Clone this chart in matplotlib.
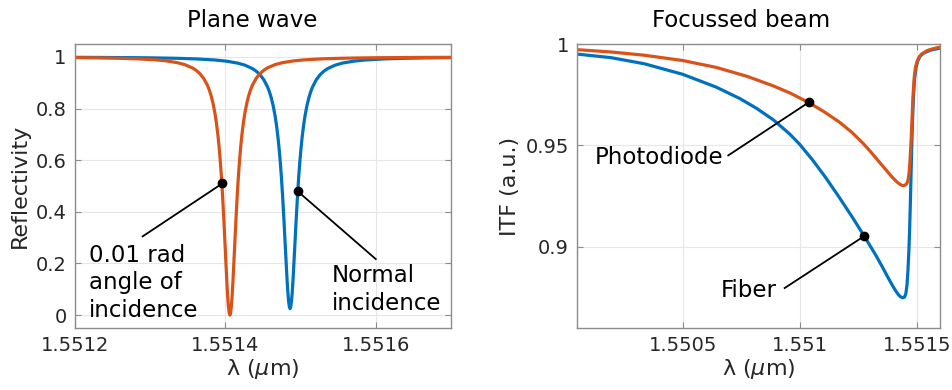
import matplotlib
matplotlib.use('Agg')
import matplotlib.pyplot as plt

# ---- left panel: plane wave reflectivity ----
angled_wl = [1.551200, 1.551226, 1.551256, 1.551281, 1.551306, 1.551321, 1.551336, 1.551346,
             1.551356, 1.551361, 1.551366, 1.551371, 1.551376, 1.5513785, 1.551381, 1.5513835,
             1.551386, 1.551388, 1.551390, 1.5513915, 1.551393, 1.5513945, 1.551396, 1.551398,
             1.551400, 1.551402, 1.551403, 1.551404, 1.551405, 1.551406, 1.551407, 1.551408,
             1.551409, 1.551410, 1.551412, 1.551414, 1.551416, 1.5514175, 1.551419, 1.5514205,
             1.551422, 1.551424, 1.551426, 1.5514285, 1.551431, 1.5514335, 1.551436, 1.551441,
             1.551446, 1.551451, 1.551456, 1.551466, 1.551476, 1.551491, 1.551506, 1.551531,
             1.551556, 1.551586, 1.551606, 1.551656, 1.551700]
angled_refl = [0.9974, 0.9966, 0.9951, 0.9930, 0.9891, 0.9850, 0.9780, 0.9703,
               0.9578, 0.9484, 0.9356, 0.9174, 0.8909, 0.873, 0.850, 0.821,
               0.784, 0.746, 0.699, 0.656, 0.605, 0.545, 0.476, 0.367,
               0.246, 0.127, 0.075, 0.035, 0.009, 0.0, 0.009, 0.035,
               0.075, 0.127, 0.246, 0.367, 0.476, 0.545, 0.605, 0.656,
               0.699, 0.746, 0.784, 0.821, 0.850, 0.873, 0.8909, 0.9174,
               0.9356, 0.9484, 0.9578, 0.9703, 0.9780, 0.9850, 0.9891, 0.9930,
               0.9951, 0.9966, 0.9972, 0.9982, 0.9987]

normal_wl = [1.551200, 1.551236, 1.551286, 1.551306, 1.551336, 1.551361, 1.551386, 1.551401,
             1.551416, 1.551426, 1.551436, 1.551441, 1.551446, 1.551451, 1.551456, 1.5514585,
             1.551461, 1.5514635, 1.551466, 1.551468, 1.551470, 1.5514715, 1.551473, 1.5514745,
             1.551476, 1.551478, 1.551480, 1.551482, 1.551483, 1.551484, 1.551485, 1.551486,
             1.551487, 1.551488, 1.551489, 1.551490, 1.551492, 1.551494, 1.551496, 1.5514975,
             1.551499, 1.5515005, 1.551502, 1.551504, 1.551506, 1.5515085, 1.551511, 1.5515135,
             1.551516, 1.551521, 1.551526, 1.551531, 1.551536, 1.551546, 1.551556, 1.551571,
             1.551586, 1.551611, 1.551636, 1.551666, 1.551700]
normal_refl = [0.9986, 0.9981, 0.9971, 0.9964, 0.9948, 0.9925, 0.9883, 0.9839,
               0.9765, 0.9683, 0.9550, 0.9450, 0.9314, 0.9123, 0.8845, 0.8655,
               0.8418, 0.8119, 0.7736, 0.7349, 0.6871, 0.6438, 0.5932, 0.5342,
               0.466, 0.3623, 0.2485, 0.1388, 0.0924, 0.0562, 0.0330, 0.025,
               0.0330, 0.0562, 0.0924, 0.1388, 0.2485, 0.3623, 0.466, 0.5342,
               0.5932, 0.6438, 0.6871, 0.7349, 0.7736, 0.8119, 0.8418, 0.8655,
               0.8845, 0.9123, 0.9314, 0.9450, 0.9550, 0.9683, 0.9765, 0.9839,
               0.9883, 0.9925, 0.9948, 0.9964, 0.9974]

# ---- right panel: focussed beam ITF ----
photodiode_wl = [1.550054, 1.550194, 1.550336, 1.550500, 1.550643, 1.550775, 1.550887, 1.550960,
                 1.551038, 1.551105, 1.551170, 1.551225, 1.551269, 1.551305, 1.551340, 1.551370,
                 1.551396, 1.551415, 1.551428, 1.551436, 1.551443, 1.551450, 1.551456, 1.551461,
                 1.551465, 1.551468, 1.551471, 1.551474, 1.551477, 1.551480, 1.551483, 1.551486,
                 1.551490, 1.551495, 1.551502, 1.551510, 1.551520, 1.551545, 1.551570, 1.551600]
photodiode_itf = [0.9972, 0.9961, 0.9945, 0.9919, 0.9885, 0.9841, 0.9794, 0.9758,
                  0.9712, 0.9666, 0.9615, 0.9563, 0.9513, 0.9467, 0.9419, 0.9378,
                  0.9343, 0.9321, 0.9309, 0.9304, 0.9302, 0.9304, 0.9310, 0.9320,
                  0.9340, 0.9370, 0.9415, 0.9472, 0.9540, 0.9620, 0.9705, 0.9775,
                  0.9840, 0.9885, 0.9915, 0.9935, 0.9950, 0.9968, 0.9977, 0.9985]

fiber_wl = [1.550054, 1.550194, 1.550336, 1.550500, 1.550643, 1.550745, 1.550816, 1.550887,
            1.550958, 1.551000, 1.551057, 1.551113, 1.551170, 1.551227, 1.551276, 1.551326,
            1.551354, 1.551380, 1.551400, 1.551413, 1.551423, 1.551430, 1.551436, 1.551442,
            1.551448, 1.551454, 1.551459, 1.551463, 1.551467, 1.551470, 1.551473, 1.551476,
            1.551479, 1.551482, 1.551486, 1.551491, 1.551497, 1.551505, 1.551515, 1.551530,
            1.551560, 1.551600]
fiber_itf = [0.9950, 0.9933, 0.9903, 0.9851, 0.9788, 0.9731, 0.9683, 0.9627,
             0.9556, 0.9506, 0.9426, 0.9339, 0.9243, 0.9143, 0.9053, 0.8958,
             0.8900, 0.8844, 0.8803, 0.8779, 0.8763, 0.8755, 0.8751, 0.8749,
             0.8752, 0.8770, 0.8815, 0.8885, 0.8985, 0.9085, 0.9210, 0.9350,
             0.9490, 0.9610, 0.9730, 0.9825, 0.9882, 0.9918, 0.9940, 0.9956,
             0.9970, 0.9980]

left_xticks = [1.5512, 1.5514, 1.5516]
left_xlabels = ['1.5512', '1.5514', '1.5516']
left_yticks = [0, 0.2, 0.4, 0.6, 0.8, 1]
left_ylabels = ['0', '0.2', '0.4', '0.6', '0.8', '1']
right_xticks = [1.5505, 1.551, 1.5515]
right_xlabels = ['1.5505', '1.551', '1.5515']
right_yticks = [0.9, 0.95, 1]
right_ylabels = ['0.9', '0.95', '1']

BLUE = '#0072BD'
ORANGE = '#D95319'
TXT = '#262626'

plt.rcParams['font.family'] = ['DejaVu Sans']
plt.rcParams['mathtext.fontset'] = 'dejavusans'

fig = plt.figure(figsize=(9.53, 3.9), dpi=100)
ax1 = fig.add_axes([0.0787, 0.159, 0.3945, 0.728])
ax2 = fig.add_axes([0.6058, 0.159, 0.3806, 0.728])


def style(ax):
    for s in ax.spines.values():
        s.set_color('#8c8c8c')
        s.set_linewidth(1.0)
    ax.tick_params(direction='in', length=4, color='#8c8c8c', labelcolor=TXT,
                   labelsize=14, top=True, right=True, pad=6)
    ax.grid(True, color='#e6e6e6', linewidth=0.8)
    ax.set_axisbelow(True)


xlab = r'λ ($\mu$m)'

ax1.plot(normal_wl, normal_refl, color=BLUE, lw=2.3)
ax1.plot(angled_wl, angled_refl, color=ORANGE, lw=2.3)
ax1.set_xlim(1.5512, 1.5517)
ax1.set_ylim(-0.05, 1.05)
ax1.set_xticks(left_xticks, left_xlabels)
ax1.set_yticks(left_yticks, left_ylabels)
style(ax1)
ax1.set_ylabel('Reflectivity', fontsize=16, color=TXT, labelpad=4)
ax1.set_xlabel(xlab, fontsize=16, color=TXT, labelpad=1)
ax1.set_title('Plane wave', fontsize=16.5, x=0.47, pad=12)

ax1.plot([1.551396, 1.55129], [0.51, 0.305], color='k', lw=1.3)
ax1.plot([1.551396], [0.51], 'ko', ms=6)
ax1.text(1.5512186, 0.125, '0.01 rad\nangle of\nincidence', fontsize=16.5,
         ha='left', va='center', linespacing=1.25)
ax1.plot([1.551496, 1.5516], [0.48, 0.217], color='k', lw=1.3)
ax1.plot([1.551496], [0.48], 'ko', ms=6)
ax1.text(1.551541, 0.10, 'Normal\nincidence', fontsize=16.5,
         ha='left', va='center', linespacing=1.25)

ax2.plot(fiber_wl, fiber_itf, color=BLUE, lw=2.3)
ax2.plot(photodiode_wl, photodiode_itf, color=ORANGE, lw=2.3)
ax2.set_xlim(1.55005, 1.5516)
ax2.set_ylim(0.86, 1.0)
ax2.set_xticks(right_xticks, right_xlabels)
ax2.set_yticks(right_yticks, right_ylabels)
style(ax2)
ax2.set_ylabel('ITF (a.u.)', fontsize=16, color=TXT, labelpad=4)
ax2.set_xlabel(xlab, fontsize=16, color=TXT, labelpad=1)
ax2.set_title('Focussed beam', fontsize=16.5, x=0.451, pad=12)

ax2.plot([1.551038, 1.550695], [0.9712, 0.9451], color='k', lw=1.3)
ax2.plot([1.551038], [0.9712], 'ko', ms=6)
ax2.text(1.550672, 0.944, 'Photodiode', fontsize=16.5, ha='right', va='center')
ax2.plot([1.551276, 1.550936], [0.9053, 0.8797], color='k', lw=1.3)
ax2.plot([1.551276], [0.9053], 'ko', ms=6)
ax2.text(1.550901, 0.8784, 'Fiber', fontsize=16.5, ha='right', va='center')

fig.savefig('out.png', dpi=100)
